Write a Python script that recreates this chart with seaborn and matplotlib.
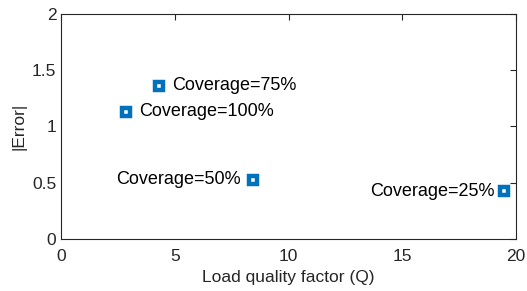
import matplotlib
matplotlib.use("Agg")
import pandas as pd
import seaborn as sns
import matplotlib.pyplot as plt

quality = [4.31, 2.86, 8.44, 19.47]
error = [1.36, 1.13, 0.525, 0.425]
labels = ["Coverage=75%", "Coverage=100%", "Coverage=50%", "Coverage=25%"]
side = ["right", "right", "left", "left"]
gap = [9, 9, 9, 7]

df = pd.DataFrame({"Q": quality, "err": error, "label": labels})

sns.set_style("white")
plt.rcParams["font.family"] = ["Liberation Sans", "DejaVu Sans"]

f, ax = plt.subplots(figsize=(5.27, 2.91), dpi=100)
sns.scatterplot(data=df, x="Q", y="err", marker="s", s=29, color="white",
                edgecolor="#0072BD", linewidth=3.2, ax=ax, zorder=3)
ax.collections[0].set_joinstyle("miter")

for x, y, t, sd, g in zip(quality, error, labels, side, gap):
    dx = g if sd == "right" else -g
    ax.annotate(t, (x, y), xytext=(dx, 0), textcoords="offset points",
                ha="left" if sd == "right" else "right", va="center",
                fontsize=13, color="black")

ax.set_xlim(0, 20)
ax.set_ylim(0, 2)
ax.set_xticks([0, 5, 10, 15, 20])
ax.set_yticks([0, 0.5, 1, 1.5, 2])
ax.set_yticklabels(["0", "0.5", "1", "1.5", "2"])
ax.set_xlabel("Load quality factor (Q)", fontsize=12.5, color="#262626")
ax.set_ylabel("|Error|", fontsize=12.5, color="#262626")
ax.tick_params(direction="in", length=4, width=0.8, top=True, right=True,
               labelsize=12.5, colors="#262626")
ax.tick_params(axis="x", pad=7.5)
for s in ax.spines.values():
    s.set_color("#262626")
    s.set_linewidth(0.8)

plt.subplots_adjust(left=0.116, right=0.979, top=0.952, bottom=0.179)
plt.savefig("out.png", dpi=100)
